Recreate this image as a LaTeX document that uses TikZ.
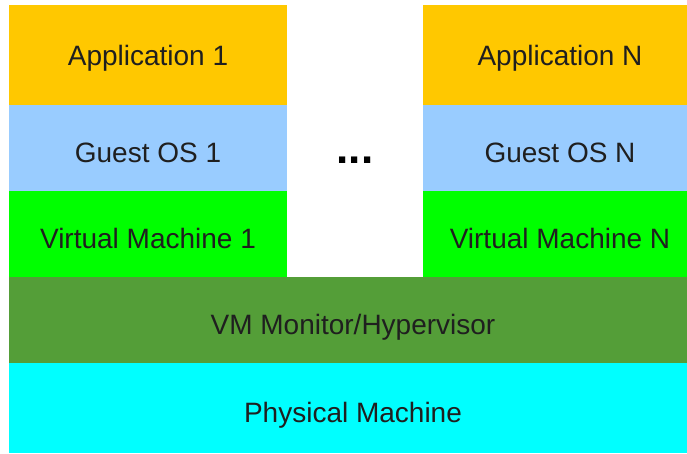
\documentclass[tikz,border=0pt]{standalone}
\usepackage{fontspec}
\setmainfont{Liberation Sans}
\usetikzlibrary{positioning}
\definecolor{appyellow}{RGB}{255,200,0}
\definecolor{guestblue}{RGB}{153,204,255}
\definecolor{vmgreen}{RGB}{0,255,0}
\definecolor{hypgreen}{RGB}{84,158,56}
\definecolor{physcyan}{RGB}{0,255,255}

\begin{document}
\begin{tikzpicture}[x=1pt, y=-1pt,
  layer/.style={inner sep=0pt, outer sep=0pt, minimum height=86pt,
    text height=28pt, text depth=0pt, text=black!88,
    font=\fontsize{28}{30}\selectfont},
  toplayer/.style={minimum height=100pt, text height=20pt},
  leftcol/.style={layer, minimum width=278pt},
  rightcol/.style={layer, minimum width=274pt},
  wide/.style={layer, minimum width=688pt, anchor=north west}]
\useasboundingbox (0,0) rectangle (687,453);
% first guest stack
\node[leftcol, toplayer, fill=appyellow] (app1) at (148,55) {Application 1};
\node[leftcol, fill=guestblue, below=0pt of app1] (guest1) {Guest OS 1};
\node[leftcol, fill=vmgreen, below=0pt of guest1] (vm1) {Virtual Machine 1};
% last guest stack
\node[rightcol, toplayer, fill=appyellow] (appN) at (560,55) {Application N};
\node[rightcol, fill=guestblue, below=0pt of appN] (guestN) {Guest OS N};
\node[rightcol, fill=vmgreen, below=0pt of guestN] (vmN) {Virtual Machine N};
% gap between the stacks
\node[anchor=base, inner sep=0pt, font=\fontsize{44}{44}\selectfont\bfseries] (dots) at (355,163) {...};
% shared layers
\node[wide, fill=hypgreen] (hyp) at (vm1.south west) {VM Monitor/Hypervisor};
\node[wide, fill=physcyan, minimum height=90pt] (phys) at (hyp.south west) {Physical Machine};
\end{tikzpicture}
\end{document}
